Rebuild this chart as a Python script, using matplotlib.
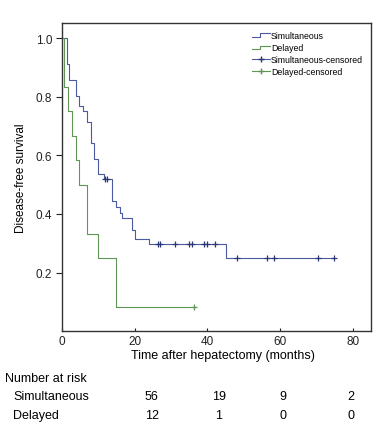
import matplotlib.pyplot as plt
from matplotlib.lines import Line2D
from matplotlib.legend_handler import HandlerBase

plt.rcParams['font.family'] = ['Liberation Sans', 'DejaVu Sans']

# Simultaneous group: step times (months) and survival after each step
sim_t = [0, 1.5, 1.9, 3.9, 4.7, 5.8, 6.9, 7.9, 8.9, 9.8, 11.6, 13.9, 15.0,
         15.9, 16.6, 19.2, 20.0, 24.0, 45.1, 74.7]
sim_s = [1.0, 0.911, 0.857, 0.804, 0.768, 0.75, 0.714, 0.643, 0.589, 0.536,
         0.518, 0.443, 0.424, 0.405, 0.386, 0.347, 0.313, 0.296, 0.251, 0.251]
sim_cens_t = [11.8, 12.3, 26.3, 26.9, 31.0, 35.0, 35.7, 39.1, 40.0, 42.1,
              48.1, 56.3, 58.2, 70.3, 74.7]
sim_cens_s = [0.518, 0.518, 0.296, 0.296, 0.296, 0.296, 0.296, 0.296, 0.296,
              0.296, 0.251, 0.251, 0.251, 0.251, 0.251]

# Delayed group
del_t = [0, 0.7, 1.7, 2.7, 3.9, 4.8, 6.8, 9.9, 15.0, 36.2]
del_s = [1.0, 0.833, 0.75, 0.667, 0.583, 0.5, 0.333, 0.25, 0.083, 0.083]
del_cens_t = [36.2]
del_cens_s = [0.083]

# number at risk table
risk_groups = ['Simultaneous', 'Delayed']
sim_risk = [56, 19, 9, 2]
del_risk = [12, 1, 0, 0]

blue = '#4b5b9e'
green = '#5f9655'
blue_mark = '#2b3775'


class StepHandler(HandlerBase):
    def create_artists(self, legend, orig, xd, yd, w, h, fs, trans):
        x = [xd, xd + w * 0.45, xd + w * 0.45, xd + w]
        y = [yd + h * 0.15, yd + h * 0.15, yd + h * 0.75, yd + h * 0.75]
        ln = Line2D(x, y, color=orig.get_color(), lw=0.8, transform=trans)
        return [ln]


fig = plt.figure(figsize=(3.87, 4.27), dpi=100)
ax = fig.add_axes([0.160, 0.222, 0.799, 0.722])

l1, = ax.step(sim_t, sim_s, where='post', color=blue, lw=0.8)
l2, = ax.step(del_t, del_s, where='post', color=green, lw=0.8)
c1, = ax.plot(sim_cens_t, sim_cens_s, ls='none', marker='+', ms=4.5,
              mew=0.9, color=blue_mark)
c2, = ax.plot(del_cens_t, del_cens_s, ls='none', marker='+', ms=4.5,
              mew=0.9, color=green)

ax.set_xlim(0, 85)
ax.set_ylim(0, 1.052)
ax.set_xticks([0, 20, 40, 60, 80])
ax.set_yticks([0.2, 0.4, 0.6, 0.8, 1.0])
ax.set_yticklabels(['0.2', '0.4', '0.6', '0.8', '1.0'])
ax.tick_params(labelsize=8.5, width=0.8, colors='#222222')
ax.tick_params(axis='x', direction='in', length=2, pad=2.5)
ax.tick_params(axis='y', direction='out', length=4, pad=3)
for sp in ax.spines.values():
    sp.set_color('#333333')
    sp.set_linewidth(1.0)

ax.set_ylabel('Disease-free survival', fontsize=8.5)
ax.yaxis.set_label_coords(-0.113, 0.5)

leg_handles = [
    Line2D([], [], color=blue, lw=0.8),
    Line2D([], [], color=green, lw=0.8),
    Line2D([], [], color=blue, lw=0.8, marker='+', ms=4.5, mec=blue_mark),
    Line2D([], [], color=green, lw=0.8, marker='+', ms=4.5),
]
leg = ax.legend(leg_handles,
                ['Simultaneous', 'Delayed', 'Simultaneous-censored',
                 'Delayed-censored'],
                handler_map={leg_handles[0]: StepHandler(),
                             leg_handles[1]: StepHandler()},
                loc='upper right', bbox_to_anchor=(0.985, 0.985),
                frameon=False, fontsize=6.3, handlelength=2.0,
                handletextpad=0.15, labelspacing=0.35, borderaxespad=0,
                numpoints=1)

fig.text(223 / 387, 1 - 356 / 427, 'Time after hepatectomy (months)',
         ha='center', va='center', fontsize=9)

fig.text(5 / 387, 1 - 379 / 427, 'Number at risk', ha='left', va='center',
         fontsize=9)
col_x = [151.7, 219, 283.3, 350.7]
row_y = [397, 416]
for name, vals, yy in zip(risk_groups, [sim_risk, del_risk], row_y):
    fig.text(13 / 387, 1 - yy / 427, name, ha='left', va='center', fontsize=9)
    for v, xx in zip(vals, col_x):
        fig.text(xx / 387, 1 - yy / 427, str(v), ha='center', va='center',
                 fontsize=9)

fig.savefig('out.png', dpi=100)
